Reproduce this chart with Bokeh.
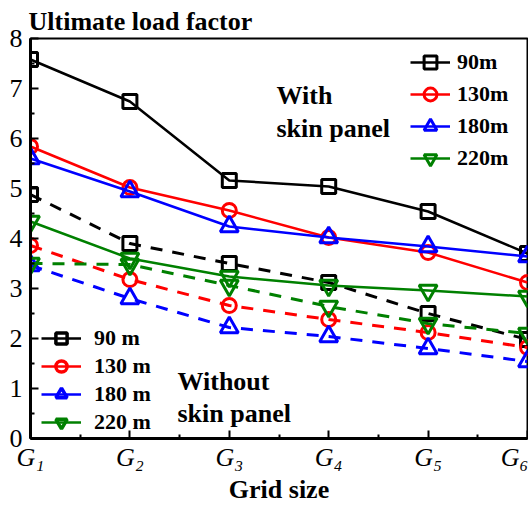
from bokeh.plotting import figure
from bokeh.models import Range1d, FixedTicker, Legend, LegendItem, Label
from bokeh.embed import file_html
from bokeh.resources import INLINE

# ---- data ----
grids = [1, 2, 3, 4, 5, 6]
tick_labels = ["G\u2081", "G\u2082", "G\u2083", "G\u2084", "G\u2085", "G\u2086"]
with_labels = ["90m", "130m", "180m", "220m"]
without_labels = ["90 m", "130 m", "180 m", "220 m"]

with_90 = [7.58, 6.74, 5.16, 5.04, 4.54, 3.70]
with_130 = [5.84, 5.02, 4.56, 4.02, 3.72, 3.12]
with_180 = [5.60, 4.94, 4.24, 4.02, 3.84, 3.64]
with_220 = [4.34, 3.60, 3.24, 3.06, 2.96, 2.84]

without_90 = [4.88, 3.90, 3.50, 3.12, 2.50, 1.98]
without_130 = [3.86, 3.18, 2.66, 2.38, 2.12, 1.82]
without_180 = [3.46, 2.80, 2.22, 2.04, 1.80, 1.54]
without_220 = [3.50, 3.48, 3.06, 2.64, 2.30, 2.10]

FONT = "Liberation Serif"
colors = ["black", "red", "blue", "green"]
markers = ["square", "circle", "triangle", "inverted_triangle"]
msizes = [14, 14, 18, 18]
NAN = float("nan")

p = figure(width=528, height=506, x_range=Range1d(1, 6), y_range=Range1d(0, 8),
           output_backend="svg", toolbar_location=None,
           min_border_left=30, min_border_right=1, min_border_top=38, min_border_bottom=68)
p.xgrid.visible = False
p.ygrid.visible = False
p.outline_line_color = "black"
p.outline_line_width = 2
p.outline_line_alpha = 1
p.background_fill_color = "white"
p.border_fill_color = "white"

p.title.text = "Ultimate load factor"
p.title.align = "left"
p.title.text_font = FONT
p.title.text_font_style = "bold"
p.title.text_font_size = "26px"
p.title.text_color = "black"
p.title.standoff = 5
p.title.offset = -2

xa = p.xaxis[0]
xa.ticker = FixedTicker(ticks=grids, minor_ticks=[1.5, 2.5, 3.5, 4.5, 5.5])
xa.major_label_overrides = {g: t for g, t in zip(grids, tick_labels)}
xa.major_label_text_font = FONT
xa.major_label_text_font_style = "italic"
xa.major_label_text_font_size = "26px"
xa.major_label_text_color = "black"
xa.major_label_standoff = 4
xa.axis_label = "Grid size"
xa.axis_label_text_font = FONT
xa.axis_label_text_font_style = "bold"
xa.axis_label_text_font_size = "26px"
xa.axis_label_text_color = "black"
xa.axis_label_standoff = 0

ya = p.yaxis[0]
ya.ticker = FixedTicker(ticks=list(range(9)), minor_ticks=[i + 0.5 for i in range(8)])
ya.major_label_text_font = FONT
ya.major_label_text_font_size = "26px"
ya.major_label_text_color = "black"
ya.major_label_standoff = 8

for ax in (xa, ya):
    ax.axis_line_width = 3
    ax.axis_line_color = "black"
    ax.major_tick_in = 8
    ax.major_tick_out = 0
    ax.minor_tick_in = 4
    ax.minor_tick_out = 0
    ax.major_tick_line_width = 2
    ax.minor_tick_line_width = 2
    ax.major_tick_line_color = "black"
    ax.minor_tick_line_color = "black"

with_series = [with_90, with_130, with_180, with_220]
without_series = [without_90, without_130, without_180, without_220]

# dashed: without skin panel
for ys, c, m, s in zip(without_series, colors, markers, msizes):
    p.line(grids, ys, line_color=c, line_width=3, line_dash="12 10")
    p.scatter(grids, ys, marker=m, size=s, line_color=c, fill_color=None, line_width=3)

# solid: with skin panel
items1 = []
for ys, c, m, s, lab in zip(with_series, colors, markers, msizes, with_labels):
    l = p.line(grids, ys, line_color=c, line_width=2.5)
    sc = p.scatter(grids, ys, marker=m, size=s, line_color=c, fill_color=None, line_width=3)
    items1.append(LegendItem(label=lab, renderers=[l, sc]))

# legend proxies (solid lines) for the without-skin legend
items2 = []
for c, m, s, lab in zip(colors, markers, msizes, without_labels):
    l = p.line(x=[NAN], y=[NAN], line_color=c, line_width=2.5)
    sc = p.scatter(x=[NAN], y=[NAN], marker=m, size=s, line_color=c, fill_color=None, line_width=3.5)
    items2.append(LegendItem(label=lab, renderers=[l, sc], index=0))

common = dict(glyph_width=40, padding=0, margin=0, spacing=0,
              label_text_font=FONT, label_text_font_style="bold", label_text_font_size="22px",
              label_text_color="black", border_line_color=None, background_fill_alpha=0,
              label_height=26)
leg1 = Legend(items=items1, location=(380, 264), glyph_height=32, label_standoff=7, **common)
leg2 = Legend(items=items2, location=(11, 2), glyph_height=28, label_standoff=13, **common)
p.add_layout(leg1)
p.add_layout(leg2)

def lab(text, x, y):
    p.add_layout(Label(x=x, y=y, x_units="screen", y_units="screen", text=text,
                       text_font=FONT, text_font_style="bold", text_font_size="26px",
                       text_color="black", text_baseline="alphabetic"))

lab("With", 246, 343)
lab("skin panel", 246, 310)
lab("Without", 147, 57)
lab("skin panel", 147, 25)

open("out.html", "w").write(file_html(p, INLINE))
